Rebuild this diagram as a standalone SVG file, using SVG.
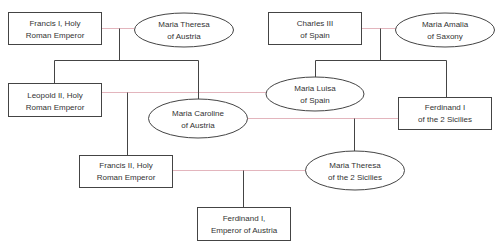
<svg xmlns="http://www.w3.org/2000/svg" width="500" height="250" viewBox="0 0 500 250">
<style>
.box{fill:#fff;stroke:#444;stroke-width:1}
.t{font-family:"Liberation Sans",Arial,sans-serif;font-size:8px;fill:#333;text-anchor:middle}
.m{stroke:#e3b5bd;stroke-width:1;fill:none}
.d{stroke:#444;stroke-width:1;fill:none}
</style>
<rect width="500" height="250" fill="#fff"/>
<g id="connectors">
<path class="m" d="M102 28.5H134M362 28.5H396M102 92.5H266M247 118.5H398M173 170.5H306"/>
<path class="d" d="M119.5 28.5V60.5M54.5 83V60.5H198.5V99M380.5 28.5V60.5M315.5 77V60.5H446.5V97M127.5 92.5V155M354.5 118.5V151M243.5 170.5V207"/>
</g>
<g id="francis1"><rect class="box" x="8.5" y="12.5" width="93" height="32"/><text class="t" x="55" y="26">Francis I, Holy</text><text class="t" x="55" y="38">Roman Emperor</text></g>
<g id="mariatheresa"><ellipse class="box" cx="184" cy="30" rx="49.5" ry="17"/><text class="t" x="184" y="27">Maria Theresa</text><text class="t" x="184" y="39">of Austria</text></g>
<g id="charles3"><rect class="box" x="268.5" y="12.5" width="93" height="32"/><text class="t" x="315" y="26">Charles III</text><text class="t" x="315" y="38">of Spain</text></g>
<g id="mariaamalia"><ellipse class="box" cx="445" cy="30" rx="49.5" ry="17"/><text class="t" x="445" y="27">Maria Amalia</text><text class="t" x="445" y="39">of Saxony</text></g>
<g id="leopold2"><rect class="box" x="8.5" y="83.5" width="93" height="33"/><text class="t" x="55" y="98">Leopold II, Holy</text><text class="t" x="55" y="110">Roman Emperor</text></g>
<g id="marialuisa"><ellipse class="box" cx="315" cy="94" rx="49" ry="17"/><text class="t" x="315" y="91">Maria Luisa</text><text class="t" x="315" y="103">of Spain</text></g>
<g id="mariacaroline"><ellipse class="box" cx="198" cy="118.5" rx="49.5" ry="19.5"/><text class="t" x="198" y="116">Maria Caroline</text><text class="t" x="198" y="128">of Austria</text></g>
<g id="ferdinand1sicilies"><rect class="box" x="398.5" y="97.5" width="93" height="32"/><text class="t" x="445" y="110">Ferdinand I</text><text class="t" x="445" y="122">of the 2 Sicilies</text></g>
<g id="francis2"><rect class="box" x="79.5" y="155.5" width="93" height="32"/><text class="t" x="126" y="168">Francis II, Holy</text><text class="t" x="126" y="180">Roman Emperor</text></g>
<g id="mariatheresa2"><ellipse class="box" cx="355" cy="170.5" rx="49.5" ry="19.5"/><text class="t" x="355" y="168">Maria Theresa</text><text class="t" x="355" y="180">of the 2 Sicilies</text></g>
<g id="ferdinand1austria"><rect class="box" x="197.5" y="207.5" width="93" height="33"/><text class="t" x="244" y="221">Ferdinand I,</text><text class="t" x="244" y="233">Emperor of Austria</text></g>
</svg>
